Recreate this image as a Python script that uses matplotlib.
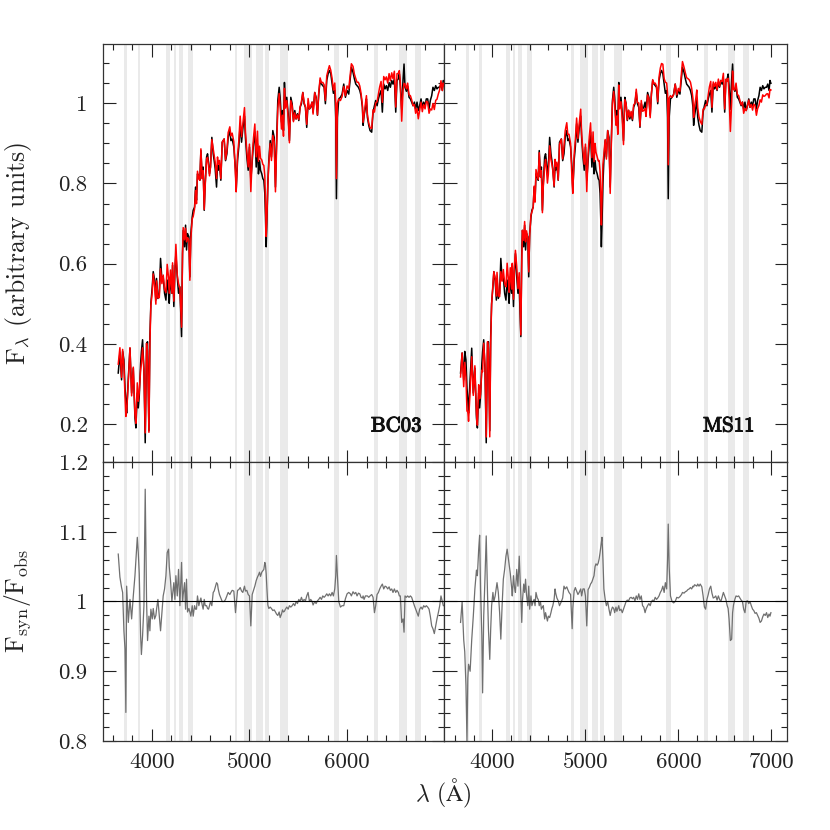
import numpy as np
import matplotlib
matplotlib.use('Agg')
import matplotlib.pyplot as plt
import matplotlib.patheffects as pe
from matplotlib.ticker import MultipleLocator, FuncFormatter

plt.rcParams['font.family'] = ['cmr10', 'DejaVu Serif']
plt.rcParams['mathtext.fontset'] = 'cm'
plt.rcParams['axes.unicode_minus'] = False

wave = [3658, 3675, 3692, 3703, 3716, 3727, 3736, 3744, 3761, 3778, 3795, 3812, 3829, 3839, 3853, 3863, 3873, 3887, 3895, 3907,
        3921, 3934, 3948, 3958, 3972, 3982, 3992, 4006, 4016, 4030, 4043, 4050, 4064, 4078, 4091, 4105, 4118, 4132, 4146, 4159,
        4173, 4180, 4193, 4207, 4214, 4227, 4238, 4248, 4262, 4275, 4289, 4299, 4306, 4316, 4323, 4337, 4347, 4357, 4367, 4381,
        4391, 4401, 4415, 4425, 4439, 4449, 4459, 4469, 4483, 4493, 4504, 4517, 4527, 4538, 4548, 4562, 4572, 4582, 4592, 4602,
        4616, 4630, 4640, 4650, 4664, 4674, 4681, 4694, 4708, 4722, 4742, 4756, 4770, 4783, 4800, 4811, 4824, 4841, 4858, 4865,
        4879, 4892, 4906, 4920, 4933, 4950, 4960, 4974, 4988, 5001, 5015, 5029, 5042, 5056, 5070, 5083, 5093, 5104, 5114, 5127,
        5138, 5148, 5158, 5165, 5172, 5179, 5189, 5199, 5213, 5226, 5240, 5254, 5267, 5278, 5291, 5305, 5315, 5329, 5339, 5349,
        5359, 5369, 5383, 5397, 5410, 5424, 5438, 5451, 5465, 5478, 5492, 5506, 5519, 5533, 5547, 5560, 5574, 5587, 5601, 5615,
        5628, 5642, 5652, 5669, 5683, 5697, 5710, 5724, 5738, 5751, 5765, 5778, 5792, 5806, 5819, 5833, 5847, 5860, 5874, 5884,
        5891, 5901, 5915, 5932, 5949, 5966, 5983, 6000, 6017, 6034, 6044, 6061, 6075, 6089, 6102, 6116, 6130, 6143, 6157, 6164,
        6174, 6188, 6198, 6208, 6222, 6235, 6252, 6266, 6280, 6293, 6307, 6321, 6334, 6348, 6361, 6375, 6389, 6402, 6416, 6430,
        6443, 6457, 6470, 6484, 6498, 6511, 6525, 6535, 6545, 6559, 6573, 6583, 6593, 6607, 6620, 6634, 6648, 6661, 6675, 6689,
        6702, 6716, 6729, 6743, 6757, 6770, 6784, 6798, 6811, 6825, 6839, 6852, 6866, 6879, 6893, 6907, 6920, 6934, 6948, 6961,
        6975, 6985, 6995]

flux_obs = [0.327, 0.377, 0.310, 0.381, 0.360, 0.290, 0.260, 0.227, 0.314, 0.389, 0.277, 0.339, 0.215, 0.190, 0.277, 0.240, 0.269, 0.351, 0.380, 0.410,
            0.335, 0.153, 0.401, 0.405, 0.183, 0.418, 0.501, 0.542, 0.580, 0.559, 0.509, 0.563, 0.513, 0.526, 0.613, 0.559, 0.567, 0.526, 0.509, 0.559,
            0.526, 0.501, 0.567, 0.526, 0.596, 0.493, 0.584, 0.625, 0.567, 0.526, 0.542, 0.468, 0.418, 0.625, 0.683, 0.642, 0.696, 0.634, 0.675, 0.667,
            0.567, 0.675, 0.716, 0.733, 0.741, 0.791, 0.758, 0.824, 0.816, 0.808, 0.882, 0.816, 0.841, 0.733, 0.800, 0.866, 0.874, 0.853, 0.824, 0.841,
            0.915, 0.874, 0.857, 0.837, 0.791, 0.845, 0.833, 0.849, 0.808, 0.903, 0.911, 0.857, 0.874, 0.915, 0.932, 0.907, 0.911, 0.891, 0.833, 0.783,
            0.857, 0.891, 0.949, 0.903, 0.936, 0.968, 0.915, 0.866, 0.833, 0.891, 0.808, 0.857, 0.899, 0.928, 0.841, 0.899, 0.824, 0.857, 0.833, 0.824,
            0.812, 0.808, 0.775, 0.716, 0.642, 0.700, 0.800, 0.857, 0.907, 0.866, 0.932, 0.915, 0.791, 0.899, 1.007, 1.040, 1.015, 0.953, 0.982, 0.932,
            1.052, 0.999, 1.015, 0.974, 0.907, 1.015, 0.999, 0.957, 0.982, 0.961, 0.974, 0.957, 0.990, 0.999, 1.027, 0.999, 0.990, 0.940, 0.999, 0.986,
            0.990, 1.003, 0.978, 1.027, 1.015, 0.970, 1.023, 1.057, 1.048, 1.044, 1.040, 0.999, 1.057, 1.074, 1.082, 1.074, 1.048, 1.025, 1.032, 0.965,
            0.762, 0.965, 1.011, 1.015, 1.023, 1.048, 1.015, 1.032, 1.023, 1.065, 1.090, 1.077, 1.061, 1.048, 1.044, 1.040, 1.032, 1.019, 0.990, 0.945,
            0.969, 0.990, 1.011, 0.965, 0.945, 0.932, 0.928, 0.978, 0.994, 1.007, 0.994, 1.011, 1.023, 1.032, 0.978, 1.048, 1.036, 1.044, 1.032, 1.052,
            1.040, 1.057, 1.048, 1.061, 0.978, 1.057, 1.061, 1.073, 1.044, 0.985, 1.060, 1.098, 1.040, 1.030, 1.042, 1.015, 1.011, 1.003, 0.994, 1.003,
            0.986, 1.003, 0.982, 0.994, 1.011, 0.990, 1.003, 0.994, 1.011, 1.011, 0.986, 1.007, 1.019, 1.040, 1.032, 1.044, 1.036, 1.040, 1.040, 1.048,
            1.032, 1.057, 1.050]

ratio_bc03 = [1.068, 1.035, 1.020, 1.013, 0.958, 0.932, 0.841, 1.022, 0.970, 1.003, 0.975, 1.008, 1.037, 1.061, 1.092, 1.070, 1.040, 0.951, 0.924, 0.951,
              0.994, 1.161, 1.000, 0.944, 0.979, 0.958, 0.989, 0.975, 0.990, 0.975, 0.980, 0.989, 1.003, 0.979, 0.958, 0.984, 1.008, 1.018, 1.037, 1.070,
              1.075, 1.050, 1.030, 1.000, 1.010, 1.027, 1.003, 1.037, 1.008, 1.046, 0.994, 1.030, 1.056, 1.000, 1.010, 1.027, 0.989, 1.032, 0.985, 0.990,
              0.985, 0.979, 0.994, 0.979, 0.994, 0.989, 0.989, 1.008, 0.994, 1.000, 1.005, 0.995, 0.989, 1.003, 0.994, 0.994, 0.990, 0.989, 0.994, 1.000,
              0.994, 1.013, 1.015, 1.020, 1.027, 1.025, 1.018, 1.010, 1.005, 1.000, 1.000, 1.003, 1.008, 1.013, 1.010, 1.013, 1.016, 1.015, 0.984, 0.995,
              1.016, 1.017, 1.020, 1.015, 1.013, 1.022, 1.015, 1.016, 1.010, 1.008, 0.965, 1.010, 1.016, 1.022, 1.030, 1.035, 1.038, 1.042, 1.036, 1.042,
              1.044, 1.046, 1.056, 1.052, 1.040, 1.020, 0.995, 0.990, 0.992, 0.990, 0.987, 0.988, 0.985, 0.982, 0.980, 0.985, 0.977, 0.982, 0.988, 0.985,
              0.986, 0.989, 0.992, 0.989, 0.994, 0.992, 0.994, 0.997, 0.994, 1.000, 0.997, 1.003, 1.000, 1.006, 1.000, 1.003, 1.001, 1.008, 1.013, 1.000,
              1.003, 1.000, 0.995, 1.000, 0.997, 1.001, 1.003, 1.006, 1.003, 1.008, 1.006, 1.008, 1.011, 1.008, 1.011, 1.008, 1.013, 1.008, 1.018, 1.037,
              1.066, 1.037, 1.000, 0.992, 0.994, 0.994, 1.004, 1.011, 1.013, 1.011, 1.008, 1.014, 1.011, 1.013, 1.008, 1.012, 1.011, 1.006, 1.005, 1.008,
              1.003, 1.008, 1.008, 1.008, 1.006, 1.008, 1.010, 1.006, 0.984, 0.994, 1.010, 1.013, 1.018, 1.022, 1.025, 1.018, 1.022, 1.021, 1.018, 1.021,
              1.016, 1.018, 1.013, 1.018, 1.013, 1.016, 1.013, 1.008, 1.008, 0.970, 0.975, 0.956, 1.008, 1.006, 1.008, 1.006, 1.008, 1.006, 1.000, 0.994,
              0.989, 0.984, 0.979, 0.989, 0.992, 0.989, 0.994, 0.992, 0.994, 0.992, 0.989, 0.979, 0.965, 0.961, 0.954, 0.965, 0.975, 0.984, 0.994, 1.008,
              1.000, 0.994, 0.994]

ratio_ms11 = [0.970, 1.000, 0.945, 0.928, 0.880, 0.800, 0.890, 0.910, 0.900, 0.945, 0.979, 1.018, 1.045, 1.037, 1.075, 1.095, 1.018, 0.951, 0.869, 0.979,
              1.035, 1.094, 1.010, 0.960, 0.917, 0.960, 0.994, 1.013, 1.000, 1.008, 1.020, 1.027, 1.013, 0.984, 0.946, 0.995, 1.032, 1.046, 1.065, 1.075,
              1.061, 1.055, 1.040, 1.020, 1.008, 1.037, 1.020, 1.013, 1.046, 1.022, 1.065, 1.030, 1.010, 0.970, 1.000, 1.025, 1.013, 1.032, 1.010, 0.994,
              1.022, 0.989, 1.008, 0.994, 1.000, 1.003, 0.994, 1.013, 1.005, 1.003, 0.994, 1.000, 0.989, 0.992, 0.994, 0.975, 0.984, 0.978, 0.972, 0.979,
              0.977, 0.984, 0.990, 0.994, 1.003, 1.018, 1.012, 1.005, 1.001, 0.994, 1.000, 1.005, 1.022, 1.018, 1.021, 1.017, 1.013, 1.010, 0.961, 0.990,
              1.015, 1.020, 1.015, 1.010, 1.013, 1.018, 1.008, 1.018, 1.018, 1.008, 0.965, 1.017, 1.020, 1.025, 1.028, 1.033, 1.037, 1.050, 1.054, 1.052,
              1.055, 1.061, 1.070, 1.078, 1.085, 1.092, 1.060, 1.018, 1.003, 0.994, 1.000, 0.989, 0.980, 0.987, 0.992, 0.990, 0.984, 0.992, 0.986, 0.990,
              0.994, 0.987, 0.989, 0.984, 0.989, 0.994, 1.000, 1.002, 1.001, 1.005, 1.006, 1.004, 1.006, 1.001, 1.008, 1.003, 1.011, 1.003, 1.008, 0.994,
              0.992, 0.984, 0.989, 0.994, 0.997, 0.994, 1.000, 1.002, 1.001, 1.006, 1.003, 1.005, 1.008, 1.013, 1.016, 1.022, 1.013, 1.027, 1.018, 1.061,
              1.111, 1.050, 1.008, 1.000, 0.998, 1.000, 1.006, 1.005, 1.007, 1.010, 1.013, 1.012, 1.014, 1.015, 1.017, 1.018, 1.020, 1.018, 1.022, 1.021,
              1.024, 1.023, 1.022, 1.025, 1.022, 1.025, 1.021, 1.008, 0.992, 0.989, 1.003, 1.010, 1.018, 1.022, 1.012, 1.005, 1.006, 1.008, 1.002, 1.008,
              1.003, 1.000, 1.006, 1.013, 1.008, 1.003, 0.994, 0.990, 0.975, 0.944, 0.946, 0.984, 0.995, 1.003, 1.008, 1.007, 1.008, 1.005, 1.002, 1.000,
              0.989, 0.984, 1.000, 1.001, 0.997, 1.000, 0.994, 0.989, 0.987, 0.983, 0.984, 0.980, 0.976, 0.970, 0.972, 0.978, 0.982, 0.980, 0.984, 0.977,
              0.982, 0.979, 0.984]

# masked wavelength windows (A)
mask_lo = [3715, 3860, 4145, 4225, 4281, 4372, 4850, 4945, 5071, 5158, 5312, 5870, 6280, 6530, 6695]
mask_hi = [3748, 3885, 4185, 4245, 4322, 4425, 4877, 5031, 5140, 5200, 5395, 5917, 6318, 6610, 6755]

models = ['BC03', 'MS11']
ratios = [ratio_bc03, ratio_ms11]

wave = np.array(wave)
flux_obs = np.array(flux_obs)

W, H = 830.0, 830.0
fig = plt.figure(figsize=(8.3, 8.3), dpi=100)

# panel edges in pixels
col_x = [(103, 444), (444, 787)]
row_top = (44, 462)
row_bot = (462, 741)
xlims = [(3502, 6992), (3480, 7168)]

tick_kw = dict(direction='in', top=True, right=True, width=0.8, colors='#222222',
               labelsize=16.5, labelcolor='#222222')

def setup(ax, xlim, ylim, ymaj, ymin):
    ax.set_xlim(*xlim)
    ax.set_ylim(*ylim)
    ax.xaxis.set_major_locator(MultipleLocator(1000))
    ax.xaxis.set_minor_locator(MultipleLocator(200))
    ax.yaxis.set_major_locator(MultipleLocator(ymaj))
    ax.yaxis.set_minor_locator(MultipleLocator(ymin))
    ax.xaxis.set_major_formatter(FuncFormatter(lambda v, p: '%d' % v))
    ax.yaxis.set_major_formatter(FuncFormatter(lambda v, p: '%g' % round(v, 3)))
    ax.tick_params(which='major', length=9, **tick_kw)
    ax.tick_params(axis='x', which='major', pad=8)
    ax.tick_params(axis='y', which='major', pad=11)
    ax.tick_params(which='minor', length=4.5, **tick_kw)
    for s in ax.spines.values():
        s.set_linewidth(0.9)
        s.set_color('#333333')
    for lo, hi in zip(mask_lo, mask_hi):
        ax.axvspan(lo, hi, color='#eaeaea', lw=0, zorder=0)

for i in range(2):
    x0, x1 = col_x[i]
    ratio = np.array(ratios[i])
    syn = flux_obs * ratio

    ax_t = fig.add_axes([x0 / W, 1 - row_top[1] / H, (x1 - x0) / W, (row_top[1] - row_top[0]) / H])
    ax_b = fig.add_axes([x0 / W, 1 - row_bot[1] / H, (x1 - x0) / W, (row_bot[1] - row_bot[0]) / H])

    setup(ax_t, xlims[i], (0.105, 1.148), 0.2, 0.05)
    setup(ax_b, xlims[i], (0.8, 1.2), 0.1, 0.02)

    ax_t.plot(wave, flux_obs, color='black', lw=1.1, zorder=2)
    ax_t.plot(wave, syn, color='red', lw=1.1, zorder=3)
    # model name, thickened a little to look bold
    ax_t.text(0.86 if i == 0 else 0.83, 0.085, models[i], transform=ax_t.transAxes,
              fontsize=15, ha='center', va='center', color='#111111',
              path_effects=[pe.withStroke(linewidth=0.8, foreground='#111111')])

    ax_b.plot(wave, ratio, color='#707070', lw=0.9, zorder=2)
    ax_b.axhline(1.0, color='black', lw=0.8, zorder=3)

    ax_t.tick_params(labelbottom=False)
    if i == 1:
        ax_t.tick_params(labelleft=False)
        ax_b.tick_params(labelleft=False)

fig.text(18 / W, 1 - 253 / H, r'F$_\lambda$ (arbitrary units)', rotation=90,
         ha='center', va='center', fontsize=18.5, color='#222222')
fig.text(18 / W, 1 - 601 / H, r'F$_{\rm syn}$/F$_{\rm obs}$', rotation=90,
         ha='center', va='center', fontsize=18.5, color='#222222')
fig.text(443 / W, 1 - 793 / H, r'$\lambda$ (${\rm\AA}$)', ha='center', va='center',
         fontsize=17, color='#222222')

fig.savefig('out.png', dpi=100)
